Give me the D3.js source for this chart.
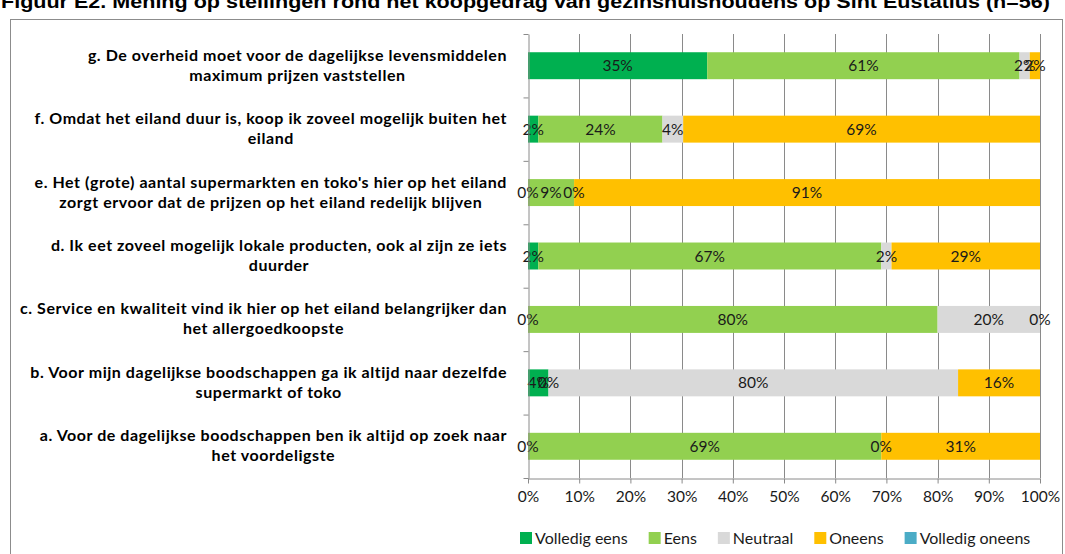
<!DOCTYPE html>
<html>
<head>
<meta charset="utf-8">
<script src="https://cdn.jsdelivr.net/npm/d3@7/dist/d3.min.js"></script>
<style>
body { margin: 0; background: #fff; }
svg { display: block; }
</style>
</head>
<body>
<div id="viz"></div>
<script>
const titleText = "Figuur E2. Mening op stellingen rond het koopgedrag van gezinshuishoudens op Sint Eustatius (n=56)";

// statements, top to bottom, already wrapped like in the original
const statements = [
    ["g.  De overheid moet voor de dagelijkse levensmiddelen", "maximum  prijzen vaststellen"],
    ["f. Omdat het eiland duur is, koop ik zoveel mogelijk buiten het", "eiland"],
    ["e. Het (grote) aantal supermarkten en toko's hier op het eiland", "zorgt ervoor dat de prijzen op het eiland redelijk blijven"],
    ["d. Ik eet zoveel mogelijk lokale producten, ook al zijn ze iets", "duurder"],
    ["c. Service en kwaliteit  vind ik hier op het eiland belangrijker dan", "het allergoedkoopste"],
    ["b. Voor mijn  dagelijkse boodschappen ga ik altijd naar dezelfde", "supermarkt of toko"],
    ["a. Voor de dagelijkse boodschappen ben ik altijd op zoek naar", "het voordeligste"]
];
const keys = ["g", "f", "e", "d", "c", "b", "a"];

const seriesNames = ["Volledig eens", "Eens", "Neutraal", "Oneens", "Volledig oneens"];
const seriesColors = ["#00B050", "#92D050", "#D9D9D9", "#FFC000", "#4BACC6"];

// percentages per statement (g .. a)
const volledigEens   = [35, 2, 0, 2, 0, 4, 0];
const eens           = [61, 24, 9, 67, 80, 0, 69];
const neutraal       = [2, 4, 0, 2, 20, 80, 0];
const oneens         = [2, 69, 91, 29, 0, 16, 31];
const volledigOneens = [null, null, null, null, null, null, null];

const xTicks = [0, 0.1, 0.2, 0.3, 0.4, 0.5, 0.6, 0.7, 0.8, 0.9, 1];

const W = 1065, H = 554;
const plot = { left: 528, right: 1040, top: 34, bottom: 478 };
const labelRight = 507;
const gridColor = "#8a8a8a";
const bodyFont = "Lato, 'Open Sans', sans-serif";

const svg = d3.select("#viz")
    .append("svg")
    .attr("width", W)
    .attr("height", H)
    .attr("viewBox", "0 0 " + W + " " + H);

// outer frame
svg.append("rect")
    .attr("x", 10.5).attr("y", 19.5)
    .attr("width", 1052).attr("height", 560)
    .attr("fill", "none")
    .attr("stroke", "#8c8c8c");

// title, mostly cut off at the top
svg.append("text")
    .attr("x", 1).attr("y", 8)
    .attr("textLength", 1049)
    .attr("lengthAdjust", "spacingAndGlyphs")
    .style("font-family", "'Liberation Sans', Arial, sans-serif")
    .style("font-weight", "bold")
    .style("font-size", "19px")
    .text(titleText);

// build table for stacking
const table = keys.map((k, i) => ({
    key: k,
    "Volledig eens": volledigEens[i],
    "Eens": eens[i],
    "Neutraal": neutraal[i],
    "Oneens": oneens[i],
    "Volledig oneens": volledigOneens[i]
}));

const stack = d3.stack()
    .keys(seriesNames)
    .value((d, key) => d[key] == null ? 0 : d[key])
    .offset(d3.stackOffsetExpand);
const layers = stack(table);

const x = d3.scaleLinear().domain([0, 1]).range([plot.left, plot.right]);
const y = d3.scaleBand().domain(keys).range([plot.top, plot.bottom])
    .paddingInner(0.575).paddingOuter(0.2875);
const yEdges = d3.scaleLinear().domain([0, keys.length]).range([plot.top, plot.bottom]);

// vertical gridlines
svg.append("g")
    .selectAll("line")
    .data(xTicks.slice(1))
    .enter()
    .append("line")
    .attr("x1", d => Math.round(x(d)) + 0.5)
    .attr("x2", d => Math.round(x(d)) + 0.5)
    .attr("y1", plot.top)
    .attr("y2", plot.bottom)
    .attr("stroke", gridColor)
    .attr("stroke-width", 1);

// bars
const layerG = svg.append("g")
    .selectAll("g")
    .data(layers)
    .enter()
    .append("g")
    .attr("fill", (d, i) => seriesColors[i]);

layerG.selectAll("rect")
    .data(d => d)
    .enter()
    .append("rect")
    .attr("x", d => x(d[0]))
    .attr("width", d => x(d[1]) - x(d[0]))
    .attr("y", d => y(d.data.key))
    .attr("height", y.bandwidth());

// value labels
layers.forEach(layer => {
    svg.append("g")
        .selectAll("text")
        .data(layer.filter(d => d.data[layer.key] != null))
        .enter()
        .append("text")
        .attr("x", d => (x(d[0]) + x(d[1])) / 2)
        .attr("y", d => y(d.data.key) + y.bandwidth() / 2 + 5.5)
        .attr("text-anchor", "middle")
        .style("font-family", bodyFont)
        .style("font-size", "15.5px")
        .style("fill", "#1a1a1a")
        .text(d => d.data[layer.key] + "%");
});

// category axis: line plus ticks on the band edges
const yAxis = svg.append("g")
    .attr("transform", "translate(" + (plot.left + 0.5) + ",0)")
    .call(d3.axisLeft(yEdges).tickValues(d3.range(keys.length + 1)).tickSize(5).tickFormat("").tickSizeOuter(0));
yAxis.selectAll("line, path").attr("stroke", gridColor);

// bottom axis
const xAxis = svg.append("g")
    .attr("transform", "translate(0," + (plot.bottom + 0.5) + ")")
    .call(d3.axisBottom(x).tickValues(xTicks).tickSize(5).tickSizeOuter(0).tickFormat(d3.format(".0%")));
xAxis.selectAll("line, path").attr("stroke", gridColor);
xAxis.selectAll("text")
    .attr("dy", "1em")
    .style("font-family", bodyFont)
    .style("font-size", "15.5px")
    .style("fill", "#1a1a1a");

// statement labels, each block centered and right aligned to the axis
statements.forEach((lines, i) => {
    const cy = y(keys[i]) + y.bandwidth() / 2;
    const g = svg.append("g");
    const texts = g.selectAll("text")
        .data(lines)
        .enter()
        .append("text")
        .attr("x", 0)
        .attr("y", (d, j) => (j - (lines.length - 1) / 2) * 20 + 5)
        .attr("text-anchor", "middle")
        .style("font-family", bodyFont)
        .style("font-weight", "bold")
        .style("font-size", "16px")
        .style("letter-spacing", "0.55px")
        .style("fill", "#000")
        .text(d => d);
    let maxW = 0;
    texts.each(function() { maxW = Math.max(maxW, this.getComputedTextLength()); });
    g.attr("transform", "translate(" + (labelRight - maxW / 2) + "," + cy + ")");
});

// legend
const legend = svg.append("g").attr("transform", "translate(520,538)");
let lx = 0;
seriesNames.forEach((name, i) => {
    const item = legend.append("g").attr("transform", "translate(" + lx + ",0)");
    item.append("rect")
        .attr("x", 0).attr("y", -6)
        .attr("width", 12).attr("height", 12)
        .attr("fill", seriesColors[i]);
    const t = item.append("text")
        .attr("x", 15).attr("y", 5.5)
        .style("font-family", bodyFont)
        .style("font-size", "16px")
        .style("fill", "#1a1a1a")
        .text(name);
    lx += 15 + t.node().getComputedTextLength() + 21;
});
</script>
</body>
</html>
